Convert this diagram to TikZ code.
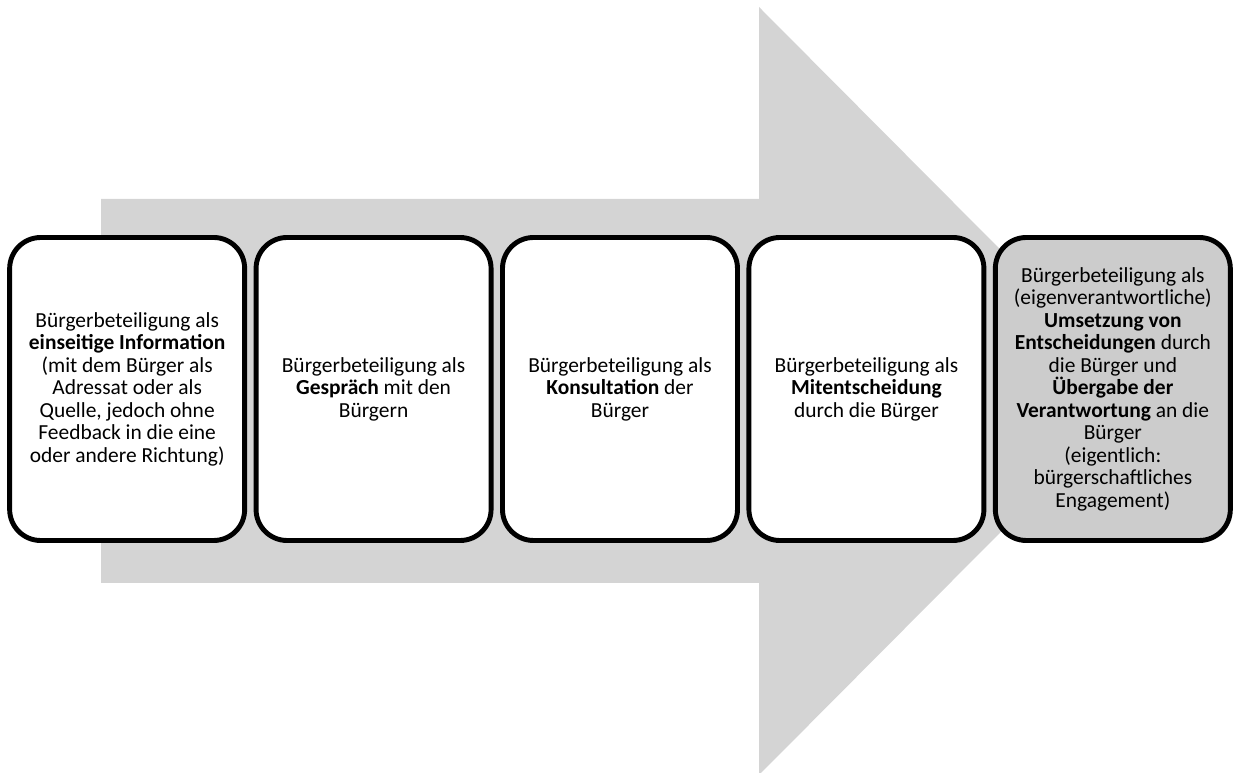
\documentclass[tikz,border=0pt]{standalone}
\usepackage{fontspec}
\setmainfont{Carlito}
\usetikzlibrary{positioning}

\definecolor{arrowgray}{RGB}{212,212,212}
\definecolor{lastgray}{RGB}{204,204,204}

\begin{document}
\begin{tikzpicture}[auto]
\tikzstyle{stage} = [rectangle, draw=black, line width=2.8pt, fill=white,
minimum width=4.7cm, minimum height=6.06cm, text width=4.5cm, align=flush center,
inner sep=1pt, rounded corners=0.62cm, outer sep=0pt,
font=\fontsize{12.2}{12.8}\selectfont]
\tikzstyle{laststage} = [stage, fill=lastgray]
\useasboundingbox (0,0) rectangle (24.68,15.44);
% big arrow behind the boxes
\fill[arrowgray] (2.02,11.46) -- (15.18,11.46) -- (15.18,15.30) -- (22.82,7.62)
  -- (15.18,-0.06) -- (15.18,3.78) -- (2.02,3.78) -- cycle;
\matrix (stufen) [column sep=1.3mm] at (12.4,7.66)
{
% the five stages
\node [stage] (info) {B\"urgerbeteiligung als\\
\textbf{einseitige Information}\\
(mit dem B\"urger als\\ Adressat oder als\\ Quelle, jedoch ohne\\
Feedback in die eine\\ oder andere Richtung)}; &
\node [stage] (gespraech) {B\"urgerbeteiligung als\\
\textbf{Gespr\"ach} mit den\\ B\"urgern}; &
\node [stage] (konsult) {B\"urgerbeteiligung als\\
\textbf{Konsultation} der\\ B\"urger}; &
\node [stage] (mitent) {B\"urgerbeteiligung als\\
\textbf{Mitentscheidung}\\ durch die B\"urger}; &
\node [laststage] (umsetz) {B\"urgerbeteiligung als\\
(eigenverantwortliche)\\ \textbf{Umsetzung von}\\
\textbf{Entscheidungen} durch\\ die B\"urger und\\
\textbf{\"Ubergabe der}\\ \textbf{Verantwortung} an die\\ B\"urger\\
(eigentlich:\\ b\"urgerschaftliches\\ Engagement)}; \\
};
\end{tikzpicture}
\end{document}
